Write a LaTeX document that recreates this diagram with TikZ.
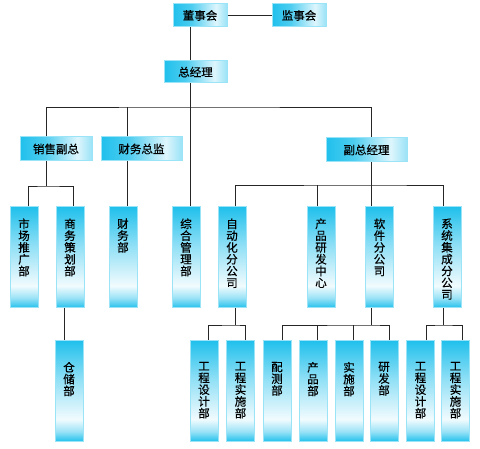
\documentclass[tikz,border=0pt]{standalone}
\usepackage{fontspec}
\newfontfamily\cjk[RawFeature={embolden=0.5}]{Noto Sans CJK SC}
\usepackage{tikz}

\definecolor{boxcyan}{RGB}{32,192,236}
\pgfdeclareverticalshading{vgrad}{100bp}{color(0bp)=(boxcyan); color(25bp)=(boxcyan); color(30bp)=(boxcyan!45); color(36bp)=(boxcyan!6); color(56bp)=(boxcyan!50); color(75bp)=(boxcyan); color(100bp)=(boxcyan)}
\pgfdeclarehorizontalshading{hgrad}{100bp}{color(0bp)=(boxcyan); color(25bp)=(boxcyan); color(42bp)=(boxcyan!80); color(65bp)=(boxcyan!15); color(75bp)=(boxcyan!45); color(100bp)=(boxcyan!45)}
\newcommand{\vtext}[2][78pt]{\parbox[c][#1][t]{20pt}{\centering #2}}

\begin{document}
\begin{tikzpicture}[x=1pt, y=-1pt,
HeadBox/.style={draw=boxcyan!45, line width=1pt, shading=hgrad, minimum height=24, inner sep=0pt, font=\cjk\fontsize{11.5}{11.8}\selectfont},
DeptBox/.style={draw=boxcyan!45, line width=1pt, shading=vgrad, minimum width=28, minimum height=101, inner sep=0pt, font=\cjk\fontsize{11.5}{11.8}\selectfont},
Link/.style={line width=0.8pt, black!85}]

\path[use as bounding box, fill=white] (0,0) rectangle (480,449);

\node[HeadBox, minimum width=54, minimum height=23] (dsh) at (200,15.5) {董事会};
\node[HeadBox, minimum width=54, minimum height=23] (jsh) at (299,15.5) {监事会};
\node[HeadBox, minimum width=63, minimum height=22] (zjl) at (195.5,72) {总经理};

\node[HeadBox, minimum width=72] (xsfz) at (56,149) {销售副总};
\node[HeadBox, minimum width=81] (cwzj) at (141.5,149) {财务总监};
\node[HeadBox, minimum width=81] (fzjl) at (366.5,150) {副总经理};

\node[DeptBox] (sctg) at (24,257.5) {\vtext{市\\场\\推\\广\\部}};
\node[DeptBox] (swch) at (70,257.5) {\vtext{商\\务\\策\\划\\部}};
\node[DeptBox] (cwb) at (123,257.5) {\vtext{财\\务\\部}};
\node[DeptBox] (zhgl) at (186,257.5) {\vtext{综\\合\\管\\理\\部}};
\node[DeptBox] (zdh) at (232,257.5) {\vtext{自\\动\\化\\分\\公\\司}};
\node[DeptBox] (cpyf) at (321,257.5) {\vtext{产\\品\\研\\发\\中\\心}};
\node[DeptBox] (rj) at (379.5,257.5) {\vtext{软\\件\\分\\公\\司}};
\node[DeptBox] (xtjc) at (447,257.5) {\vtext{系\\统\\集\\成\\分\\公\\司}};

\node[DeptBox] (ccb) at (69,391) {\vtext[58pt]{仓\\储\\部}};
\node[DeptBox] (gcsj1) at (204,391) {\vtext[58pt]{工\\程\\设\\计\\部}};
\node[DeptBox] (gcss1) at (240.5,391) {\vtext[58pt]{工\\程\\实\\施\\部}};
\node[DeptBox] (pcb) at (277,391) {\vtext[58pt]{配\\测\\部}};
\node[DeptBox] (cpb) at (313,391) {\vtext[58pt]{产\\品\\部}};
\node[DeptBox] (ssb) at (349,391) {\vtext[58pt]{实\\施\\部}};
\node[DeptBox] (yfb) at (384,391) {\vtext[58pt]{研\\发\\部}};
\node[DeptBox] (gcsj2) at (420.5,391) {\vtext[58pt]{工\\程\\设\\计\\部}};
\node[DeptBox] (gcss2) at (455.5,391) {\vtext[58pt]{工\\程\\实\\施\\部}};

\coordinate (bus) at (190,107);
\coordinate (sbus) at (46,186);
\coordinate (fbus) at (371,185);
\coordinate (zbus) at (235,325);
\coordinate (rbus) at (371,325);
\coordinate (xbus) at (443,325);

\draw[Link] (dsh) -- (jsh);
\draw[Link] ([xshift=-10pt]dsh.south) -- ([xshift=-5.5pt]zjl.north);
\draw[Link] ([xshift=-5.5pt]zjl.south) -- ([xshift=4pt]zhgl.north);
\draw[Link] ([xshift=-10pt]xsfz.north) |- (bus) -| ([xshift=4.5pt]fzjl.north);
\draw[Link] ([xshift=-14.5pt]cwzj.north) -- ([xshift=-14.5pt]cwzj.north |- bus);

\draw[Link] ([xshift=-10pt]xsfz.south) -- (sbus);
\draw[Link] ([xshift=4pt]sctg.north) |- (sbus) -| ([xshift=3pt]swch.north);
\draw[Link] ([xshift=-6pt]swch.south) -- ([xshift=-5pt]ccb.north);
\draw[Link] ([xshift=-14.5pt]cwzj.south) -- ([xshift=4pt]cwb.north);

\draw[Link] ([xshift=4.5pt]fzjl.south) -- ([xshift=-8.5pt]rj.north);
\draw[Link] ([xshift=3pt]zdh.north) |- (fbus) -| ([xshift=-4pt]xtjc.north);
\draw[Link] ([xshift=-4pt]cpyf.north) -- ([xshift=-4pt]cpyf.north |- fbus);

\draw[Link] ([xshift=3pt]zdh.south) -- (zbus);
\draw[Link] ([xshift=4pt]gcsj1.north) |- (zbus) -| ([xshift=4.5pt]gcss1.north);
\draw[Link] ([xshift=-8.5pt]rj.south) -- (rbus);
\draw[Link] ([xshift=5pt]pcb.north) |- (rbus) -| ([xshift=5pt]yfb.north);
\draw[Link] ([xshift=4pt]cpb.north) -- ([xshift=4pt]cpb.north |- rbus);
\draw[Link] ([xshift=4pt]ssb.north) -- ([xshift=4pt]ssb.north |- rbus);
\draw[Link] ([xshift=-4pt]xtjc.south) -- (xbus);
\draw[Link] ([xshift=5.5pt]gcsj2.north) |- (xbus) -| ([xshift=6.5pt]gcss2.north);

\end{tikzpicture}
\end{document}
